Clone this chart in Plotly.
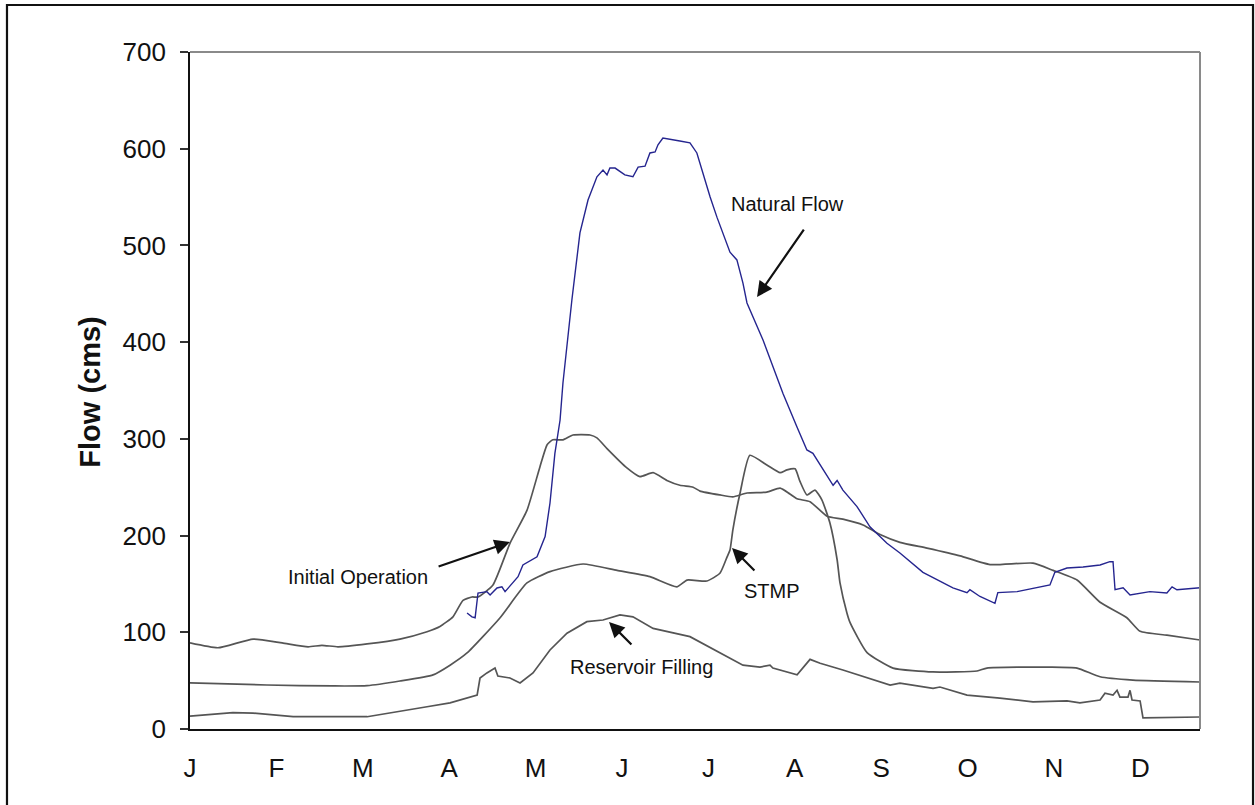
import plotly.graph_objects as go

# Day of year (0 = 1 Jan) and flow in cms for each operating scenario
init_day = [0, 9.7, 21.9, 32, 41, 45.8, 51.4, 61.5, 72.9, 82.3, 86.8, 91.3, 94.8, 97.9, 100,
            105.2, 111.1, 117, 121.5, 124, 126, 129.5, 133, 138.9, 141.3, 144.8, 151.7, 156.2,
            160.8, 165.6, 170.1, 174.7, 177.1, 184, 188.5, 193.4, 200.3, 204.9, 208.3, 210.8,
            215.3, 221.2, 226.7, 233.7, 239.6, 246.5, 255.9, 267.4, 277.8, 292.7, 299.7, 308,
            316, 325.3, 329.9, 339.2, 350.7]
init_flow = [89, 84, 93, 89, 85, 86.5, 85, 88, 93, 100.6, 106, 116, 133, 136.5, 136.5,
             149, 192, 226, 271, 294, 299, 299, 304, 304, 301, 290, 270, 261,
             265, 257, 252, 250, 246, 242, 240, 244, 245, 249, 243, 238,
             235, 220, 217, 211, 201, 193, 187, 179, 170, 171.5, 164, 154,
             131, 115, 101, 97, 92]

stmp_day = [0, 26.7, 49.7, 61.5, 72.9, 84.4, 90.3, 96.2, 107.6, 117, 125, 136.5, 148.3,
            159.7, 169.1, 172.6, 179.5, 184, 186.5, 187.5, 188.5, 191, 194.4, 200.3, 204.9,
            207.3, 210.1, 211.8, 214.2, 217, 219.4, 222.2, 224.7, 225.7, 228.1, 229.2, 235.1,
            244.1, 258, 273.3, 276.7, 298.6, 308, 316, 327.4, 350.7]
stmp_flow = [47.6, 45.5, 44.5, 44.8, 49.6, 56, 66, 78.6, 114.8, 151, 162.7, 170.6, 164,
             157.5, 147, 154, 153, 161, 178, 185, 206, 244, 283, 273, 265,
             268, 269, 256, 242, 247, 237, 213, 175, 151, 120, 110, 79,
             63, 59, 60, 63, 64, 63, 54, 50.6, 48.6]

fill_day = [0, 14.9, 21.9, 35.8, 61.5, 72.9, 82.3, 90.3, 99.7, 100.7, 103.1, 105.9, 106.9,
            111.1, 114.6, 119.1, 125, 130.9, 137.8, 143.4, 149.3, 153.8, 160.8, 173.6, 183,
            192, 197.9, 201.4, 202.4, 210.8, 215.3, 218.8, 226.7, 235.1, 243.1, 246.5, 258,
            260.4, 269.8, 281.2, 292.7, 304.5, 309, 316, 317.7, 320.5, 321.9, 322.9, 325.7,
            326.4, 327.1, 329.9, 330.9, 350.7]
fill_flow = [13.4, 17, 16.5, 12.7, 12.7, 18, 23, 27, 35, 52.7, 58, 63, 54.7,
             52.7, 47.6, 58, 81.7, 99, 111, 112.7, 118, 116, 104, 95.5, 80,
             66, 64, 66, 63, 56, 72, 68, 61, 52.7, 45.5, 47.5, 42,
             43.4, 35, 32, 28, 29, 27, 30, 37, 35, 40, 33, 33,
             40, 30, 29, 11.4, 12.4]

nat_day = [96.2, 97.9, 99, 100, 103.1, 104.2, 106.6, 108.3, 109.4, 113.9, 115.6, 120.5,
           123.3, 125, 126.7, 128.5, 129.5, 132.6, 135.4, 138.2, 141.3, 143.4, 144.8, 145.8,
           147.6, 151, 153.8, 155.6, 158, 159.7, 161.5, 162.5, 164.2, 167.4, 170.1, 173.6,
           176, 180.6, 183, 187.5, 189.9, 192, 193.4, 199, 202.4, 205.9, 210.8, 214.2, 216.3,
           222.2, 223.3, 224.7, 226.7, 231.6, 236.1, 242, 246.5, 254.5, 264.9, 269.8, 270.8,
           274.3, 279.5, 280.5, 287.2, 298.6, 300.3, 304.5, 310.1, 316, 319.4, 320.5, 321.2,
           324, 326.4, 333.3, 339.2, 341, 342.7, 350.7]
nat_flow = [120, 116, 115, 140.6, 142, 138.6, 145.8, 147, 142, 157.5, 169.6, 178,
            199, 233.7, 285, 319.5, 357.8, 443.6, 513, 547, 571, 578, 573, 580,
            580, 573, 571, 581, 582, 595.6, 596.6, 604, 611, 609, 608, 606,
            595.6, 550, 529, 493, 485, 461, 440.5, 402, 374, 347, 312, 288.5, 285,
            257.5, 252, 257, 247, 230, 209, 192, 182, 162, 146, 141, 144,
            137, 130, 141, 142, 149, 162, 166.5, 167.5, 169.6, 173, 173, 144,
            146, 138.6, 142, 140.6, 147, 144, 146]

month_days = [0, 30, 60, 90, 120, 150, 180, 210, 240, 270, 300, 330]
month_labels = ["J", "F", "M", "A", "M", "J", "J", "A", "S", "O", "N", "D"]

GRAY = "#555555"
BLUE = "#25258f"
FONT = "Liberation Sans, Arial, sans-serif"

fig = go.Figure()
for d, f, c, w, shp in [(init_day, init_flow, GRAY, 1.7, "spline"),
                        (stmp_day, stmp_flow, GRAY, 1.7, "spline"),
                        (fill_day, fill_flow, GRAY, 1.7, "linear"),
                        (nat_day, nat_flow, BLUE, 1.4, "linear")]:
    fig.add_trace(go.Scatter(x=d, y=f, mode="lines",
                             line=dict(color=c, width=w, shape=shp, smoothing=0.5),
                             showlegend=False, hoverinfo="skip"))

# Labels with arrows: (text, text x, text y, head x, head y, tail x, tail y)
labels = [
    ("Natural Flow", 207.3, 543, 196.9, 446.7, 213.5, 518),
    ("Initial Operation", 58.3, 157, 111.1, 193.4, 85.8, 167.5),
    ("STMP", 202.1, 142.7, 188.2, 187.2, 196.5, 162.3),
    ("Reservoir Filling", 156.6, 64.1, 145.5, 110.6, 153.8, 85.8),
]
for txt, tx, ty, hx, hy, ax, ay in labels:
    fig.add_annotation(x=tx, y=ty, text=txt, showarrow=False,
                       font=dict(family=FONT, size=20, color="#111"))
    fig.add_annotation(x=hx, y=hy, ax=ax, ay=ay, axref="x", ayref="y", text="",
                       showarrow=True, arrowhead=2, arrowsize=1.4, arrowwidth=2.2,
                       arrowcolor="#111", standoff=0, startstandoff=0)

# y-axis title
fig.add_annotation(xref="paper", yref="paper", x=-0.117, y=0.498, text="<b>Flow (cms)</b>",
                   textangle=-90, showarrow=False,
                   font=dict(family=FONT, size=29, color="#111"))

# Gray top and right plot edges
fig.add_shape(type="line", xref="paper", yref="paper", x0=0, x1=1, y0=1, y1=1,
              line=dict(color="#8a8a8a", width=2))
fig.add_shape(type="line", xref="paper", yref="paper", x0=1, x1=1, y0=0, y1=1,
              line=dict(color="#8a8a8a", width=2))
# Origin tick below the x-axis
fig.add_shape(type="line", xref="x", yref="y", x0=0, x1=0, y0=0, y1=-8.5,
              line=dict(color="#111", width=1.5))
# Outer frame
fig.add_shape(type="rect", xref="paper", yref="paper", x0=-0.1812, x1=1.0525,
              y0=-0.2, y1=1.0694, line=dict(color="#111", width=2.2), layer="below")

fig.update_xaxes(range=[0, 350.7], tickvals=month_days, ticktext=month_labels,
                 showgrid=False, zeroline=False, showline=True, linecolor="#111",
                 linewidth=1.6, ticks="", tickfont=dict(family=FONT, size=26, color="#111"),
                 ticklabelstandoff=15)
fig.update_yaxes(range=[0, 700], tickvals=list(range(0, 701, 100)),
                 showgrid=False, zeroline=False, showline=True, linecolor="#111",
                 linewidth=1.6, ticks="outside", ticklen=8, tickwidth=1.5, tickcolor="#333",
                 tickfont=dict(family=FONT, size=26, color="#111"), ticklabelstandoff=9)

fig.update_layout(width=1255, height=805, margin=dict(l=190, r=55, t=52, b=76),
                  paper_bgcolor="white", plot_bgcolor="white", showlegend=False)

fig.write_html("out.html")
